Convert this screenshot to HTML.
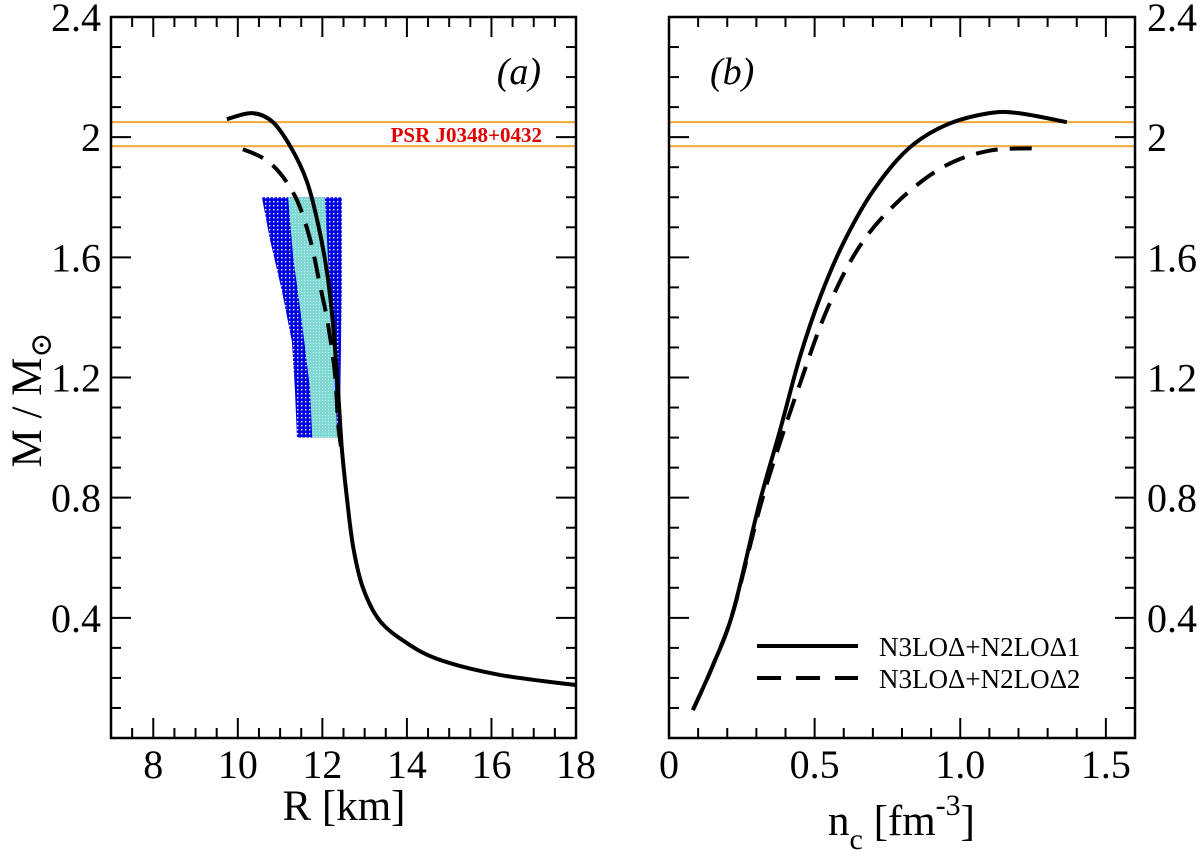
<!DOCTYPE html>
<html><head><meta charset="utf-8"><style>
html,body{margin:0;padding:0;background:#fff}
svg{display:block;font-family:"Liberation Serif","DejaVu Serif",serif}
text{font-family:"Liberation Serif","DejaVu Serif",serif}
</style></head><body>
<svg id="c" width="1200" height="858" viewBox="0 0 1200 858">
<defs>
<pattern id="pBlue" width="4" height="4" patternUnits="userSpaceOnUse"><rect width="4" height="4" fill="#0000e6"/><rect x="1" y="1" width="1.4" height="1.4" fill="#fff"/></pattern>
<pattern id="pCyan" width="3" height="3" patternUnits="userSpaceOnUse"><rect width="3" height="3" fill="#7fd8d4"/><rect x="1" y="1" width="1" height="1" fill="#c8f0ee"/></pattern>
</defs>
</svg>
<script>
// ---- data ----
const rSolid = [9.74,10.34,10.83,11.28,11.64,11.9,12.11,12.25,12.37,12.46,12.58,12.73,12.96,13.36,14.0,14.78,16.2,18.0];
const mSolidA = [2.06,2.08,2.05,1.96,1.85,1.71,1.55,1.38,1.16,0.965,0.80,0.635,0.50,0.39,0.316,0.26,0.21,0.176];
const rDash = [10.12,10.6,11.0,11.4,11.71,11.94,12.13,12.3,12.37,12.44];
const mDashA = [1.96,1.93,1.88,1.79,1.66,1.51,1.38,1.21,1.05,0.97];
const nSolid = [0.082,0.15,0.22,0.31,0.38,0.45,0.52,0.60,0.70,0.82,0.95,1.10,1.20,1.366];
const mSolidB = [0.093,0.24,0.42,0.78,1.02,1.27,1.47,1.65,1.82,1.96,2.04,2.08,2.08,2.05];
const nDash = [0.082,0.15,0.22,0.31,0.38,0.45,0.54,0.65,0.78,0.94,1.10,1.28];
const mDashB = [0.093,0.24,0.42,0.76,0.98,1.18,1.42,1.63,1.78,1.90,1.955,1.963];
const outerBandR = [10.57,10.76,11.04,11.28,11.35,11.4,12.41,12.46,12.46];
const outerBandM = [1.8,1.66,1.49,1.32,1.16,1.0,1.0,1.49,1.8];
const innerBandR = [11.19,11.31,11.52,11.71,11.76,12.36,12.3,12.25,12.13,12.06];
const innerBandM = [1.8,1.6,1.38,1.16,1.0,1.0,1.16,1.38,1.6,1.8];
const psrBand = [1.97,2.05];
const yTicks = [0.4,0.8,1.2,1.6,2,2.4];
const yTickLabels = ["0.4","0.8","1.2","1.6","2","2.4"];
const xTicksA = [8,10,12,14,16,18];
const xTicksB = [0,0.5,1.0,1.5];
const xTickLabelsB = ["0","0.5","1.0","1.5"];

const NS="http://www.w3.org/2000/svg";
const FF='"Liberation Serif","DejaVu Serif",serif';
const svg=document.getElementById('c');
const T=738, TOP=17;
const y=v=>T-(v/2.4)*(T-TOP);
const xa=v=>111+(v-7)*(576-111)/11;
const xb=v=>669+v*(1135-669)/1.6;
function mk(tag,attrs,parent){const e=document.createElementNS(NS,tag);for(const k in attrs)e.setAttribute(k,attrs[k]);if(tag==='text')e.setAttribute('font-family',FF);(parent||svg).appendChild(e);return e;}
function pathD(xs,ys,fx){return xs.map((v,i)=>(i?'L':'M')+fx(v).toFixed(1)+','+y(ys[i]).toFixed(1)).join(' ');}
function smoothD(xs,ys,fx){
  const p=xs.map((v,i)=>[fx(v),y(ys[i])]);let d='M'+p[0][0]+','+p[0][1];
  for(let i=0;i<p.length-1;i++){const p0=p[i-1]||p[i],p1=p[i],p2=p[i+1],p3=p[i+2]||p2;
    d+=` C${p1[0]+(p2[0]-p0[0])/6},${p1[1]+(p2[1]-p0[1])/6} ${p2[0]-(p3[0]-p1[0])/6},${p2[1]-(p3[1]-p1[1])/6} ${p2[0]},${p2[1]}`;}
  return d;}

function panel(name,x0,x1,fx,xmin,xmax,xmajor,xminor,rightLabels){
  const g=mk('g',{});
  
  
  const band=mk('rect',{x:x0,y:y(psrBand[1]),width:x1-x0,height:y(psrBand[0])-y(psrBand[1]),fill:'none',stroke:'#f0a830','stroke-width':2},g);
  
  
  for(let k=1;k<24;k++){const v=k/10;const yy=y(v);const L=(k%4===0)?20:10;
    mk('line',{x1:x0,x2:x0+L,y1:yy,y2:yy,stroke:'#000','stroke-width':2},g);
    mk('line',{x1:x1,x2:x1-L,y1:yy,y2:yy,stroke:'#000','stroke-width':2},g);}
  for(let v=xmin+xminor;v<xmax-1e-6;v+=xminor){const xx=fx(v);const maj=Math.abs(Math.round(v/xmajor)*xmajor-v)<1e-6;const L=maj?20:10;
    mk('line',{x1:xx,x2:xx,y1:T,y2:T-L,stroke:'#000','stroke-width':2},g);
    mk('line',{x1:xx,x2:xx,y1:TOP,y2:TOP+L,stroke:'#000','stroke-width':2},g);}
  const fr=mk('rect',{x:x0,y:TOP,width:x1-x0,height:T-TOP,fill:'none',stroke:'#000','stroke-width':2.5},g);
  
  
  yTicks.forEach((v,i)=>{const t=mk('text',{x:rightLabels?x1+12:x0-10,y:y(v)+14,'font-size':40,'text-anchor':rightLabels?'start':'end'},g);t.textContent=yTickLabels[i];
    
    });
  return g;
}
panel('panel-a',111,576,xa,7,18,2,0.5,false);
panel('panel-b',669,1135,xb,0,1.6,0.5,0.1,true);
xTicksA.forEach(v=>{const t=mk('text',{x:xa(v),y:778,'font-size':40,'text-anchor':'middle'});t.textContent=String(v);
  
  });
xTicksB.forEach((v,i)=>{const t=mk('text',{x:xb(v),y:778,'font-size':40,'text-anchor':'middle'});t.textContent=xTickLabelsB[i];
  
  });

const ob=mk('path',{d:pathD(outerBandR,outerBandM,xa)+'Z',fill:'url(#pBlue)'});


const ib=mk('path',{d:pathD(innerBandR,innerBandM,xa)+'Z',fill:'url(#pCyan)'});



const s1=mk('path',{d:smoothD(rSolid,mSolidA,xa),fill:'none',stroke:'#000','stroke-width':4});


const s2=mk('path',{d:smoothD(rDash,mDashA,xa),fill:'none',stroke:'#000','stroke-width':4,'stroke-dasharray':'22,12'});


const s3=mk('path',{d:smoothD(nSolid,mSolidB,xb),fill:'none',stroke:'#000','stroke-width':4});


const s4=mk('path',{d:smoothD(nDash,mDashB,xb),fill:'none',stroke:'#000','stroke-width':4,'stroke-dasharray':'22,12'});



function txt(x,yy,s,attrs,name){const t=mk('text',Object.assign({x:x,y:yy},attrs));t.textContent=s;
  
  return t;}
txt(542,142,'PSR J0348+0432',{'font-size':21,'font-weight':'bold',fill:'#e00000','text-anchor':'end'},'psr-label');
txt(541,84,'(a)',{'font-size':38,'font-style':'italic','text-anchor':'end'},'panel-a-label');
txt(710,84,'(b)',{'font-size':38,'font-style':'italic'},'panel-b-label');
txt(344,820,'R [km]',{'font-size':43,'text-anchor':'middle'},'x-axis-title-a');
const nt=txt(828,835,'',{'font-size':43},'x-axis-title-b');
nt.innerHTML='n<tspan font-size="30" dy="14">c</tspan><tspan dy="-14"> [fm</tspan><tspan font-size="30" dy="-20">-3</tspan><tspan dy="20">]</tspan>';
const yt=txt(0,0,'',{'font-size':43,'text-anchor':'middle',transform:'translate(41,400) rotate(-90)'},'y-axis-title');
yt.innerHTML='M / M<tspan font-size="30" dy="10">⊙</tspan>';

const lg=mk('g',{});


mk('line',{x1:757,x2:858,y1:646,y2:646,stroke:'#000','stroke-width':4},lg);
mk('line',{x1:757,x2:858,y1:678,y2:678,stroke:'#000','stroke-width':4,'stroke-dasharray':'24,15'},lg);
const l1=mk('text',{x:879,y:656,'font-size':27},lg);l1.textContent='N3LOΔ+N2LOΔ1';


const l2=mk('text',{x:879,y:688,'font-size':27},lg);l2.textContent='N3LOΔ+N2LOΔ2';


</script>
</body></html>
